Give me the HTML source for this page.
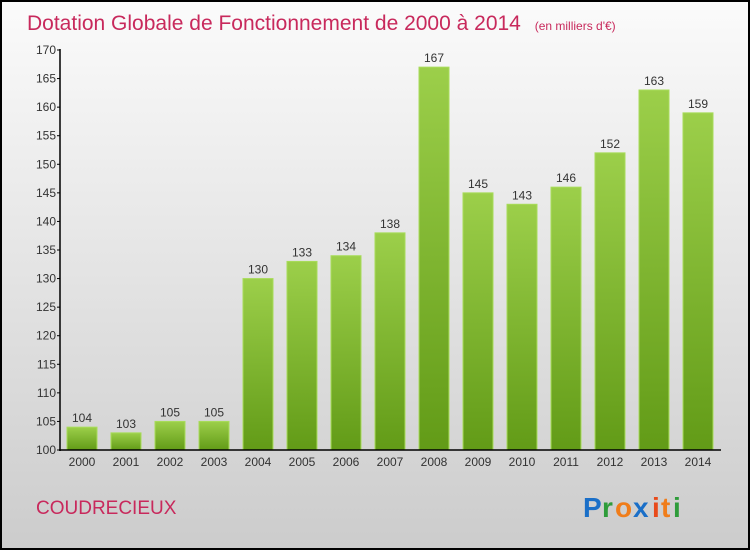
<!DOCTYPE html>
<html><head><meta charset="utf-8"><style>
body{margin:0;width:750px;height:550px;overflow:hidden}
svg{display:block;font-family:"Liberation Sans",sans-serif}
</style></head><body>
<svg width="750" height="550" viewBox="0 0 750 550">
<defs>
<linearGradient id="bg" x1="0" y1="0" x2="0" y2="1"><stop offset="0" stop-color="#fbfbfb"/><stop offset="1" stop-color="#cccccc"/></linearGradient>
<linearGradient id="bar" x1="0" y1="0" x2="0" y2="1"><stop offset="0" stop-color="#9ccf4a"/><stop offset="1" stop-color="#629b17"/></linearGradient>
</defs>
<rect x="1" y="1" width="748" height="548" fill="url(#bg)" stroke="#000" stroke-width="2"/>
<text x="27" y="30" font-size="21" fill="#c8295c">Dotation Globale de Fonctionnement de 2000 à 2014 <tspan font-size="12" dx="8">(en milliers d'€)</tspan></text>
<g id="bars"></g>
<g id="axes"></g>
<text x="36" y="514" font-size="19" fill="#c8295c">COUDRECIEUX</text>
<g font-size="28" font-weight="bold">
<text x="583" y="517" fill="#1a6fc8">P</text><text x="602" y="517" fill="#2e9c3a">r</text><text x="615" y="517" fill="#f07d1a">o</text><text x="633" y="517" fill="#1a6fc8">x</text><text x="652" y="517" fill="#e84a1a">i</text><text x="661" y="517" fill="#f07d1a">t</text><text x="673" y="517" fill="#2e9c3a">i</text>
</g>
</svg>
<script>
const years=["2000","2001","2002","2003","2004","2005","2006","2007","2008","2009","2010","2011","2012","2013","2014"];
const values=[104,103,105,105,130,133,134,138,167,145,143,146,152,163,159];
const yTicks=[100,105,110,115,120,125,130,135,140,145,150,155,160,165,170];
const NS="http://www.w3.org/2000/svg";
const y=v=>450-(v-100)*400/70;
const xc=i=>82+i*44;
function mk(t,a,p){const e=document.createElementNS(NS,t);for(const k in a)e.setAttribute(k,a[k]);p.appendChild(e);return e;}
const bars=document.getElementById('bars'),axes=document.getElementById('axes');
values.forEach((v,i)=>{
 const r=mk('rect',{x:xc(i)-15,y:y(v),width:30,height:450-y(v),fill:'url(#bar)',stroke:'#a8dc5a','stroke-width':1},bars);
 
 
 const t=mk('text',{x:xc(i),y:y(v)-5,'text-anchor':'middle','font-size':12,fill:'#333'},bars);
 t.textContent=v;
 
 
 const l=mk('text',{x:xc(i),y:466,'text-anchor':'middle','font-size':12,fill:'#333'},axes);
 l.textContent=years[i];
 
 
});
yTicks.forEach(v=>{
 mk('line',{x1:57,x2:60,y1:y(v),y2:y(v),stroke:'#000'},axes);
 const t=mk('text',{x:56,y:y(v)+4,'text-anchor':'end','font-size':12,fill:'#333'},axes);
 t.textContent=v;
 
 
});
const ya=mk('line',{x1:60,x2:60,y1:49,y2:451,stroke:'#000','stroke-width':1.5},axes);


const xa=mk('line',{x1:59,x2:721,y1:450,y2:450,stroke:'#000','stroke-width':1.5},axes);


</script>
</body></html>
